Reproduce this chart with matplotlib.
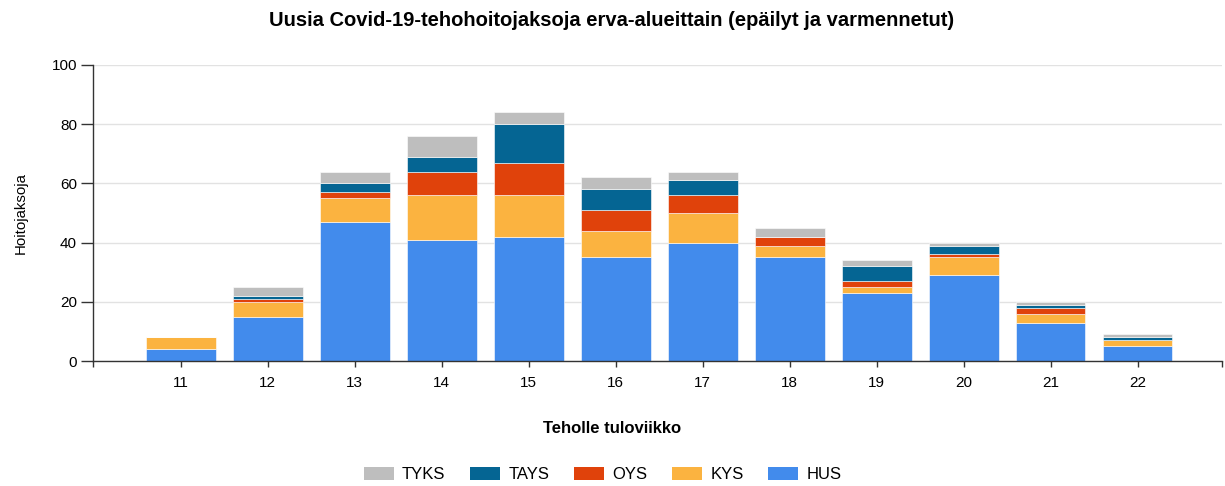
import numpy as np
from matplotlib import pyplot as plt
from matplotlib.patches import Patch

weeks = ["11", "12", "13", "14", "15", "16", "17", "18", "19", "20", "21", "22"]

# stack order bottom -> top
hus = [4, 15, 47, 41, 42, 35, 40, 35, 23, 29, 13, 5]
kys = [4, 5, 8, 15, 14, 9, 10, 4, 2, 6, 3, 2]
oys = [0, 1, 2, 8, 11, 7, 6, 3, 2, 1, 2, 0]
tays = [0, 1, 3, 5, 13, 7, 5, 0, 5, 3, 1, 1]
tyks = [0, 3, 4, 7, 4, 4, 3, 3, 2, 1, 1, 1]

series_names = ["HUS", "KYS", "OYS", "TAYS", "TYKS"]
series_values = [hus, kys, oys, tays, tyks]
series_colors = ["#428bec", "#fbb340", "#e0420b", "#056593", "#bebebe"]


def main():
    plt.rcParams["font.family"] = ["Liberation Sans", "DejaVu Sans"]
    fig = plt.figure(figsize=(12.25, 4.86), dpi=100)
    ax = fig.add_axes([0.0759, 0.2572, 0.9217, 0.6091])

    x = np.arange(len(weeks))
    bottom = np.zeros(len(weeks))
    for name, vals, color in zip(series_names, series_values, series_colors):
        vals = np.array(vals, dtype=float)
        ax.bar(x, vals, width=0.8, bottom=bottom, color=color,
               edgecolor="white", linewidth=0.4, zorder=3, label=name)
        bottom += vals

    ax.set_xlim(-1.01, 11.97)
    ax.set_ylim(0, 100)
    ax.set_yticks(range(0, 101, 20))
    ax.set_xticks(x)
    ax.set_xticklabels(weeks)
    ax.set_xticks([-1.01, 11.97], minor=True)
    ax.tick_params(axis="x", which="both", length=4.5, width=1, color="#333333",
                   labelsize=11, pad=6)
    ax.tick_params(axis="y", length=8.5, width=1, color="#333333",
                   labelsize=11, pad=3)

    ax.grid(axis="y", color="#e2e2e2", linewidth=1, zorder=0)
    for side in ["top", "right"]:
        ax.spines[side].set_visible(False)
    for side in ["left", "bottom"]:
        ax.spines[side].set_color("#333333")
        ax.spines[side].set_linewidth(1)
        ax.spines[side].set_zorder(4)

    ax.set_ylabel("Hoitojaksoja", fontsize=10.8)
    ax.yaxis.set_label_coords(-0.058, 0.5)
    fig.text(0.4995, 0.119, "Teholle tuloviikko", ha="center", va="center",
             fontsize=12, fontweight="bold")
    fig.text(0.4995, 0.958, "Uusia Covid-19-tehohoitojaksoja erva-alueittain (epäilyt ja varmennetut)",
             ha="center", va="center", fontsize=14.5, fontweight="bold")

    handles = [Patch(facecolor=c, label=n) for n, c in zip(series_names, series_colors)]
    handles = handles[::-1]
    fig.legend(handles=handles, loc="center", bbox_to_anchor=(0.492, 0.023),
               ncol=5, frameon=False, fontsize=12, handlelength=1.8,
               handleheight=0.78, handletextpad=0.48, columnspacing=1.5)

    fig.savefig("out.png", dpi=100)


if __name__ == "__main__":
    main()
